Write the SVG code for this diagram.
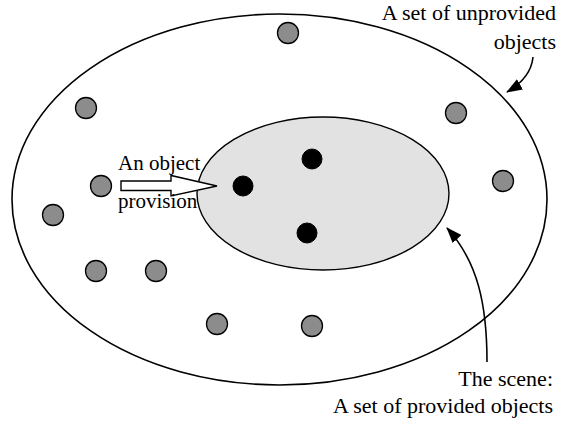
<svg xmlns="http://www.w3.org/2000/svg" width="562" height="421" viewBox="0 0 562 421">
  <style>
    .label { font-family: "Liberation Serif", "Times New Roman", serif; font-size: 22px; fill: #000; }
    .small { font-size: 21px; }
    .free { fill: #8c8c8c; stroke: #000; stroke-width: 1.3; }
    .held { fill: #000; stroke: #000; stroke-width: 1; }
    .pointer { fill: none; stroke: #000; stroke-width: 1.6; marker-end: url(#head); }
  </style>
  <defs>
    <marker id="head" viewBox="0 0 16 12" refX="15" refY="6" markerWidth="16" markerHeight="12" markerUnits="userSpaceOnUse" orient="auto">
      <path d="M0,0 L16,6 L0,12 Z" fill="#000"/>
    </marker>
  </defs>

  <rect width="562" height="421" fill="#fff"/>

  <!-- universe of unprovided objects -->
  <g id="universe">
    <ellipse cx="279.5" cy="199.5" rx="267.5" ry="185.5" fill="none" stroke="#000" stroke-width="1.6"/>
  </g>

  <!-- the scene -->
  <g id="scene">
    <ellipse cx="323" cy="193.5" rx="126" ry="76.5" fill="#e2e2e2" stroke="#000" stroke-width="1.4"/>
  </g>

  <!-- unprovided objects -->
  <g id="unprovided-objects">
    <circle class="free" cx="288" cy="33" r="10.5"/>
    <circle class="free" cx="86" cy="108" r="10.5"/>
    <circle class="free" cx="456" cy="113" r="10.5"/>
    <circle class="free" cx="503" cy="181" r="10.5"/>
    <circle class="free" cx="101" cy="186" r="10.5"/>
    <circle class="free" cx="53" cy="215" r="10.5"/>
    <circle class="free" cx="96" cy="271" r="10.5"/>
    <circle class="free" cx="156" cy="271" r="10.5"/>
    <circle class="free" cx="217" cy="324" r="10.5"/>
    <circle class="free" cx="312" cy="326" r="10.5"/>
  </g>

  <!-- provided objects -->
  <g id="provided-objects">
    <circle class="held" cx="243" cy="186" r="10"/>
    <circle class="held" cx="312" cy="159" r="10"/>
    <circle class="held" cx="307" cy="233" r="10"/>
  </g>

  <!-- provision arrow -->
  <g id="provision">
    <path d="M121,181 L171,181 L171,175.5 L217,186 L171,196 L171,190.5 L121,190.5 Z" fill="#fff" stroke="#000" stroke-width="1.4" stroke-linejoin="miter"/>
    <text class="label small" x="118" y="170">An object</text>
    <text class="label small" x="118" y="208">provision</text>
  </g>

  <!-- callout pointers -->
  <g id="connectors">
    <path class="pointer" d="M533,57 Q531,78 507,92"/>
    <path class="pointer" d="M487,362 C487,305 478,262 447,228"/>
  </g>

  <g id="label-unprovided">
    <text class="label" x="556" y="20" text-anchor="end">A set of unprovided</text>
    <text class="label" x="556" y="49" text-anchor="end">objects</text>
  </g>

  <g id="label-scene">
    <text class="label" x="553" y="386" text-anchor="end">The scene:</text>
    <text class="label" x="553" y="413" text-anchor="end">A set of provided objects</text>
  </g>
</svg>
